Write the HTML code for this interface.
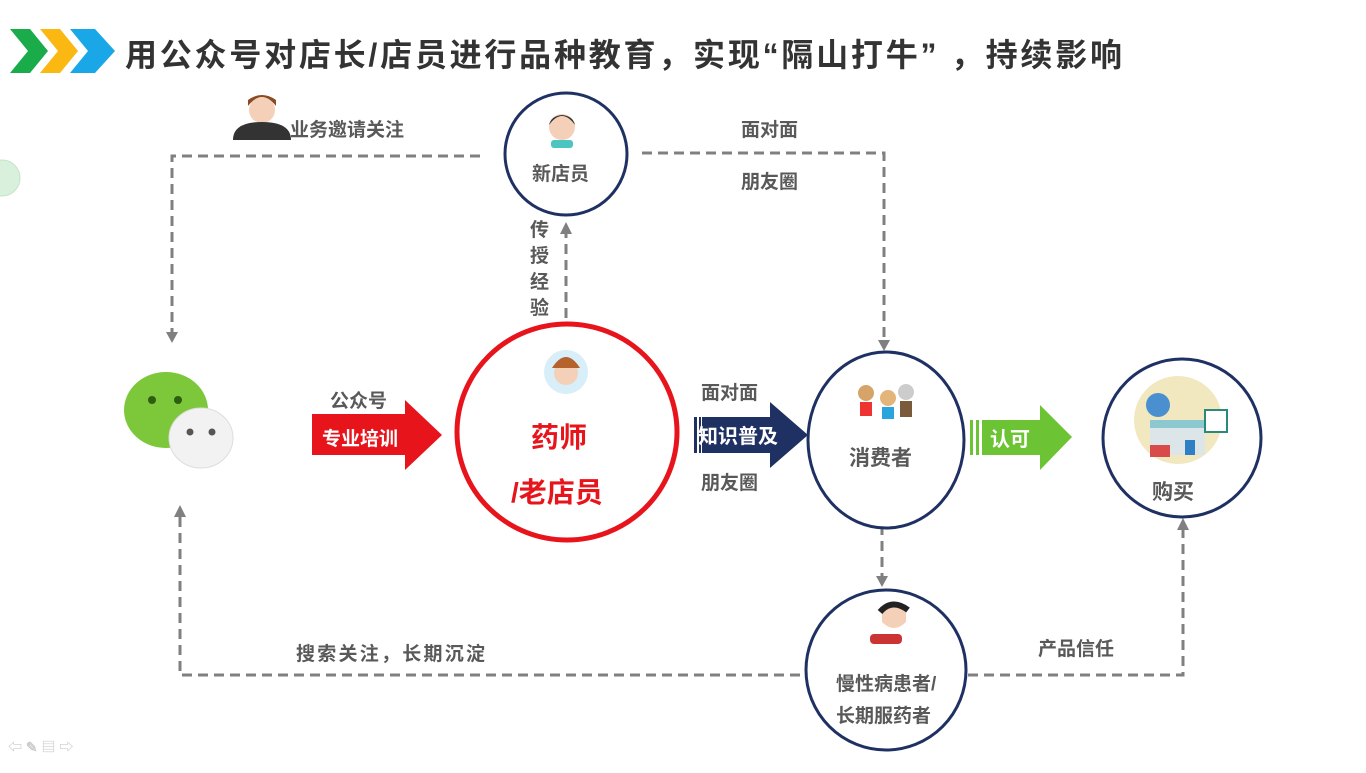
<!DOCTYPE html>
<html><head><meta charset="utf-8"><style>
body{margin:0;width:1366px;height:768px;background:#fff;overflow:hidden;font-family:"Liberation Sans","Noto Sans CJK SC",sans-serif}
</style></head><body>
<svg width="1366" height="768" viewBox="0 0 1366 768" font-family="Liberation Sans, Noto Sans CJK SC, sans-serif" font-weight="bold">
<polygon points="10,29 30,29 48,51 30,73 10,73 28,51" fill="#1aab4b"/>
<polygon points="40,29 60,29 78,51 60,73 40,73 58,51" fill="#fbb813"/>
<polygon points="70,29 95,29 115,51 95,73 70,73 88,51" fill="#1aa7e8"/>
<text x="125" y="66" font-size="32" fill="#333" textLength="997" lengthAdjust="spacing">用公众号对店长/店员进行品种教育，实现“隔山打牛” ，持续影响</text>
<circle cx="2" cy="178" r="18" fill="#d8f0dc" stroke="#c6e3c8"/>
<g fill="none" stroke="#808080" stroke-width="3" stroke-dasharray="10,6">
<polyline points="480,156 172,156 172,332"/>
<polyline points="642,153 884,153 884,342"/>
<line x1="566" y1="318" x2="566" y2="232"/>
<line x1="882" y1="525" x2="882" y2="578"/>
<polyline points="800,675 180,675 180,515"/>
<polyline points="968,675 1183,675 1183,528"/>
</g>
<g fill="#808080">
<polygon points="166,332 178,332 172,343"/>
<polygon points="878,340 890,340 884,351"/>
<polygon points="560,234 572,234 566,222"/>
<polygon points="876,576 888,576 882,587"/>
<polygon points="174,517 186,517 180,505"/>
<polygon points="1177,530 1189,530 1183,518"/>
</g>
<circle cx="566" cy="154" r="61" fill="#fff" stroke="#1f3163" stroke-width="3"/>
<ellipse cx="567" cy="432" rx="110" ry="108" fill="#fff" stroke="#e8141c" stroke-width="5"/>
<ellipse cx="886" cy="440" rx="78" ry="88" fill="#fff" stroke="#1f3163" stroke-width="3"/>
<circle cx="1182" cy="438" r="79" fill="#fff" stroke="#1f3163" stroke-width="3"/>
<circle cx="886" cy="670" r="80" fill="#fff" stroke="#1f3163" stroke-width="3"/>
<circle cx="562" cy="127" r="13" fill="#f5d0b8"/><path d="M549,125 q13,-18 26,0 q-2,-9 -13,-10 q-11,1 -13,10z" fill="#333"/><rect x="551" y="140" width="22" height="8" rx="3" fill="#4cc4c0"/>
<circle cx="566" cy="372" r="22" fill="#d8eef8"/><circle cx="566" cy="373" r="12" fill="#f5d0b8"/><path d="M552,368 q14,-22 28,0" fill="#b5622c"/>
<circle cx="262" cy="110" r="13" fill="#f5d0b8"/><path d="M248,106 q14,-18 28,0 l0,-6 q-14,-10 -28,0z" fill="#8a4a22"/><path d="M233,140 q0,-18 29,-18 q29,0 29,18z" fill="#333"/>
<circle cx="866" cy="393" r="8" fill="#d6a468"/><circle cx="888" cy="398" r="8" fill="#e4b57a"/><circle cx="906" cy="392" r="8" fill="#ccc"/>
<rect x="860" y="402" width="12" height="14" fill="#e33"/><rect x="882" y="407" width="12" height="12" fill="#29a4dd"/><rect x="900" y="401" width="12" height="16" fill="#7b5a3c"/>
<circle cx="1178" cy="420" r="44" fill="#f2e8c0"/><rect x="1150" y="425" width="55" height="30" fill="#dce5e8"/><rect x="1150" y="420" width="55" height="8" fill="#8cc8d0"/><circle cx="1158" cy="405" r="12" fill="#4a8fd0"/><rect x="1205" y="410" width="22" height="22" fill="#fff" stroke="#2a8a7a" stroke-width="2"/><rect x="1185" y="440" width="10" height="15" fill="#2f7fc4"/><rect x="1150" y="445" width="20" height="12" fill="#d94a4a"/>
<path d="M882,612 q12,-12 24,0 l0,10 q-12,12 -24,0z" fill="#f5d0b8"/><path d="M880,612 q12,-14 28,-2" fill="none" stroke="#222" stroke-width="6"/><rect x="870" y="634" width="32" height="10" rx="4" fill="#c33"/>
<ellipse cx="166" cy="410" rx="42" ry="38" fill="#7cc83a"/><ellipse cx="201" cy="438" rx="32" ry="30" fill="#f2f2f2" stroke="#ddd"/>
<circle cx="152" cy="400" r="4" fill="#2d5d10"/><circle cx="178" cy="400" r="4" fill="#2d5d10"/><circle cx="190" cy="432" r="3.5" fill="#555"/><circle cx="212" cy="432" r="3.5" fill="#555"/>
<polygon points="312,414 405,414 405,400 442,435 405,470 405,455 312,455" fill="#e8141c"/>
<polygon points="702,417 770,417 770,402 808,435 770,468 770,453 702,453" fill="#1f3163"/>
<rect x="694" y="417" width="3" height="36" fill="#1f3163"/><rect x="699" y="417" width="2" height="36" fill="#1f3163"/>
<polygon points="982,420 1040,420 1040,405 1072,437 1040,470 1040,455 982,455" fill="#6cc334"/>
<rect x="970" y="420" width="3" height="35" fill="#6cc334"/><rect x="976" y="420" width="3" height="35" fill="#6cc334"/>
<g fill="#595959" font-size="19">
<text x="290" y="136">业务邀请关注</text>
<text x="532" y="180">新店员</text>
<text x="741" y="136">面对面</text>
<text x="741" y="188">朋友圈</text>
<text x="330" y="407">公众号</text>
<text x="701" y="399">面对面</text>
<text x="701" y="489">朋友圈</text>
<text x="849" y="465" font-size="21">消费者</text>
<text x="1152" y="499" font-size="21">购买</text>
<text x="296" y="660" textLength="189" lengthAdjust="spacing">搜索关注，长期沉淀</text>
<text x="1038" y="655">产品信任</text>
<text x="836" y="690">慢性病患者/</text>
<text x="836" y="722">长期服药者</text>
<text x="530" y="236">传</text><text x="530" y="262">授</text><text x="530" y="288">经</text><text x="530" y="314">验</text>
</g>
<text x="322" y="445" font-size="19" fill="#fff">专业培训</text>
<text x="698" y="443" font-size="20" fill="#fff">知识普及</text>
<text x="990" y="446" font-size="20" fill="#fff">认可</text>
<text x="531" y="447" font-size="28" fill="#e8141c">药师</text>
<text x="511" y="502" font-size="28" fill="#e8141c">/老店员</text>
<g fill="#ccc" font-size="14"><text x="8" y="752">⇦ ✎ ▤ ⇨</text></g>
</svg>
</body></html>
